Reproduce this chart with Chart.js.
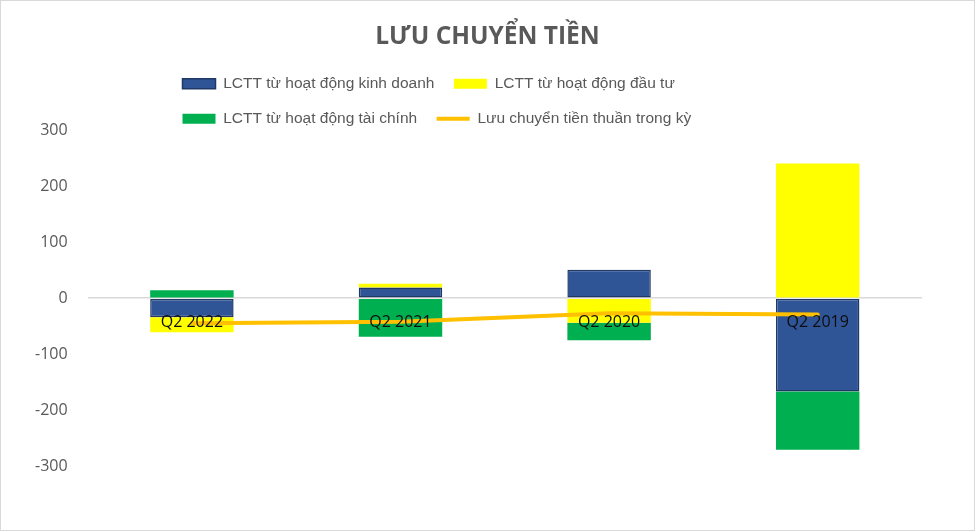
<!DOCTYPE html>
<html>
<head>
<meta charset="utf-8">
<script src="https://cdn.jsdelivr.net/npm/chart.js@4.4.1/dist/chart.umd.min.js"></script>
<style>
	html, body { margin: 0; padding: 0; background: #fff; }
	#wrap { width: 975px; height: 531px; box-sizing: border-box; border: 1px solid #d9d9d9; }
</style>
</head>
<body>
<div id="wrap"><canvas id="cash-flow"></canvas></div>
<script>
var quarters = ["Q2 2022", "Q2 2021", "Q2 2020", "Q2 2019"];
var operating = [-34, 19, 51, -167];
var investing = [-27, 7, -44, 241];
var financing = [14, -69, -31, -104];
var netFlow = [-45, -42, -27, -29];
var yTicks = [-300, -200, -100, 0, 100, 200, 300];

var LEGEND_ROW_WIDTH = 560;
var LEGEND_SHIFT = 148;
var LEGEND_GAP = -6;
var TITLE_SHIFT = 19;

function shiftDraw(box, dx) {
	var drw = box.draw;
	box.draw = function() {
		var c = this.ctx;
		c.save();
		c.translate(dx, 0);
		drw.call(this);
		c.restore();
	};
}

// two legend rows, left aligned like the Excel legend; title centred on the whole chart
var excelLayout = {
	id : "excelLayout",
	beforeLayout : function(chart) {
		if (chart._excelPatched) return;
		chart._excelPatched = true;
		var lg = chart.legend;
		var upd = lg.update;
		lg.update = function(w, h, m) {
			upd.call(this, Math.min(w, LEGEND_ROW_WIDTH), h, m);
			this.height += LEGEND_GAP;
		};
		var drw = lg.draw;
		lg.draw = function() {
			var right = this.right;
			this.right = this.left + LEGEND_ROW_WIDTH;
			drw.call(this);
			this.right = right;
		};
		shiftDraw(lg, LEGEND_SHIFT);
		shiftDraw(chart.titleBlock, TITLE_SHIFT);
	}
};

var ctx = document.getElementById("cash-flow");

var data = {
	labels : quarters,
	datasets : [
		{
			label : "LCTT từ hoạt động kinh doanh",
			data : operating,
			backgroundColor : "#2f5597",
			borderColor : "#203864",
			borderWidth : 1.5,
			borderSkipped : false,
			pointStyle : "rect",
			stack : "cf",
			order : 1
		},
		{
			label : "LCTT từ hoạt động đầu tư",
			data : investing,
			backgroundColor : "#ffff00",
			borderWidth : 0,
			pointStyle : "rect",
			stack : "cf",
			order : 1
		},
		{
			label : "LCTT từ hoạt động tài chính",
			data : financing,
			backgroundColor : "#00b050",
			borderWidth : 0,
			pointStyle : "rect",
			stack : "cf",
			order : 1
		},
		{
			type : "line",
			label : "Lưu chuyển tiền thuần trong kỳ",
			data : netFlow,
			borderColor : "#ffc000",
			backgroundColor : "#ffc000",
			borderWidth : 4,
			borderCapStyle : "round",
			pointRadius : 0,
			pointStyle : "line",
			tension : 0,
			fill : false,
			stack : "net",
			order : 0
		}
	]
};

var options = {
	responsive : true,
	maintainAspectRatio : false,
	animation : false,
	layout : {
		padding : { left : 14, right : 52, bottom : 64, top : 0 }
	},
	datasets : {
		bar : { barPercentage : 0.4, categoryPercentage : 1 }
	},
	plugins : {
		title : {
			display : true,
			text : "LƯU CHUYỂN TIỀN",
			color : "#595959",
			font : { family : "'Open Sans', sans-serif", size : 24.5, weight : "bold" },
			padding : { top : 21, bottom : 5 }
		},
		legend : {
			display : true,
			position : "top",
			align : "start",
			labels : {
				color : "#595959",
				font : { family : "'Liberation Sans', Arial, sans-serif", size : 15.5 },
				usePointStyle : true,
				pointStyleWidth : 33,
				boxHeight : 10,
				padding : 19.5,
				sort : function(a, b) { return a.datasetIndex - b.datasetIndex; }
			}
		},
		tooltip : { enabled : false }
	},
	scales : {
		x : {
			stacked : true,
			position : { y : 0 },
			grid : { display : false },
			border : { display : false },
			ticks : {
				z : 1,
				color : "#0d0d0d",
				font : { family : "'Open Sans', sans-serif", size : 16 },
				padding : 7,
				maxRotation : 0,
				autoSkip : false
			}
		},
		y : {
			stacked : true,
			min : yTicks[0],
			max : yTicks[yTicks.length - 1],
			afterBuildTicks : function(scale) {
				scale.ticks = yTicks.map(function(v) { return { value : v }; });
			},
			grid : {
				drawTicks : false,
				lineWidth : 1.5,
				color : function(c) { return c.tick && c.tick.value === 0 ? "#d9d9d9" : "rgba(0,0,0,0)"; }
			},
			border : { display : false },
			ticks : {
				color : "#595959",
				font : { family : "'Open Sans', sans-serif", size : 16 },
				padding : 20
			}
		}
	}
};

var chart = new Chart(ctx, {
	type : "bar",
	data : data,
	options : options,
	plugins : [excelLayout]
});
</script>
</body>
</html>
